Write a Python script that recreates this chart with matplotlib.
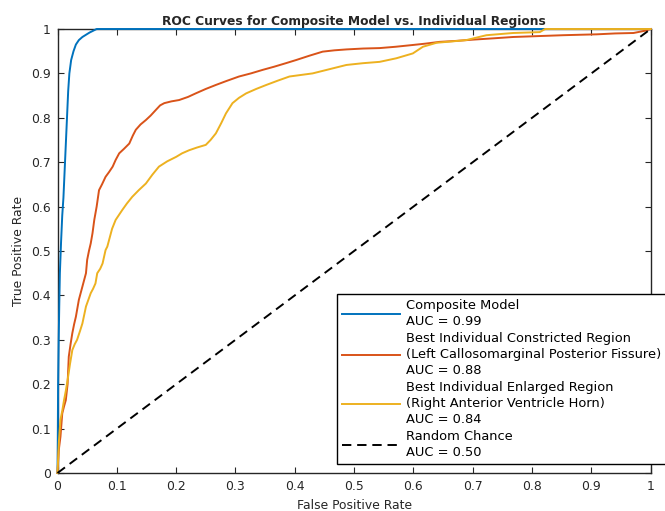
import numpy as np
import matplotlib.pyplot as plt

# ROC curve points
comp_fpr = [0, 0.0005, 0.001, 0.002, 0.003, 0.004, 0.006, 0.008, 0.010, 0.012, 0.014, 0.016,
            0.018, 0.020, 0.023, 0.027, 0.031, 0.036, 0.042, 0.048, 0.054, 0.060, 0.066, 1.0]
comp_tpr = [0, 0.08, 0.20, 0.30, 0.38, 0.45, 0.52, 0.58, 0.62, 0.68, 0.74, 0.80,
            0.86, 0.90, 0.93, 0.95, 0.965, 0.975, 0.982, 0.987, 0.992, 0.996, 1.0, 1.0]

con_fpr = [0, 0.002, 0.005, 0.008, 0.011, 0.014, 0.017, 0.019, 0.022, 0.025, 0.028, 0.031,
           0.036, 0.042, 0.048, 0.050, 0.053, 0.056, 0.059, 0.062, 0.066, 0.070, 0.075, 0.081,
           0.087, 0.093, 0.098, 0.104, 0.112, 0.121, 0.127, 0.132, 0.140, 0.149, 0.157, 0.166,
           0.173, 0.180, 0.192, 0.205, 0.22, 0.233, 0.25, 0.267, 0.285, 0.306, 0.326, 0.346,
           0.365, 0.385, 0.402, 0.425, 0.447, 0.467, 0.487, 0.515, 0.543, 0.57, 0.599, 0.62,
           0.644, 0.67, 0.70, 0.735, 0.768, 0.81, 0.852, 0.88, 0.909, 0.94, 0.971, 0.99, 1.0]
con_tpr = [0, 0.05, 0.082, 0.134, 0.15, 0.164, 0.20, 0.262, 0.29, 0.315, 0.335, 0.352,
           0.39, 0.42, 0.45, 0.48, 0.50, 0.517, 0.54, 0.57, 0.60, 0.637, 0.65, 0.667,
           0.678, 0.69, 0.705, 0.72, 0.73, 0.742, 0.76, 0.773, 0.785, 0.795, 0.805, 0.818,
           0.828, 0.833, 0.837, 0.84, 0.847, 0.855, 0.865, 0.874, 0.883, 0.893, 0.90, 0.908,
           0.915, 0.923, 0.930, 0.94, 0.949, 0.952, 0.954, 0.956, 0.957, 0.96, 0.964, 0.967,
           0.971, 0.973, 0.976, 0.979, 0.982, 0.984, 0.986, 0.987, 0.988, 0.99, 0.991, 0.996, 1.0]

enl_fpr = [0, 0.0025, 0.005, 0.008, 0.011, 0.014, 0.017, 0.021, 0.025, 0.029, 0.033, 0.038,
           0.042, 0.048, 0.052, 0.056, 0.060, 0.064, 0.067, 0.072, 0.076, 0.081, 0.084, 0.087,
           0.092, 0.098, 0.103, 0.109, 0.117, 0.126, 0.137, 0.149, 0.160, 0.171, 0.185, 0.20,
           0.21, 0.222, 0.235, 0.25, 0.258, 0.267, 0.276, 0.284, 0.295, 0.306, 0.318, 0.335,
           0.352, 0.372, 0.391, 0.43, 0.46, 0.487, 0.515, 0.543, 0.571, 0.599, 0.616, 0.639,
           0.665, 0.689, 0.723, 0.768, 0.813, 0.822, 1.0]
enl_tpr = [0, 0.074, 0.12, 0.14, 0.164, 0.185, 0.209, 0.245, 0.277, 0.29, 0.30, 0.32,
           0.337, 0.375, 0.39, 0.405, 0.415, 0.427, 0.45, 0.46, 0.472, 0.502, 0.51, 0.525,
           0.55, 0.57, 0.58, 0.592, 0.607, 0.622, 0.637, 0.652, 0.672, 0.69, 0.702, 0.712,
           0.72, 0.727, 0.733, 0.739, 0.75, 0.765, 0.788, 0.81, 0.833, 0.845, 0.855, 0.865,
           0.874, 0.884, 0.893, 0.90, 0.91, 0.919, 0.923, 0.926, 0.934, 0.945, 0.96, 0.969,
           0.972, 0.975, 0.986, 0.991, 0.993, 1.0, 1.0]

rand_fpr = [0, 1]
rand_tpr = [0, 1]

labels = ['Composite Model\nAUC = 0.99',
          'Best Individual Constricted Region\n(Left Callosomarginal Posterior Fissure)\nAUC = 0.88',
          'Best Individual Enlarged Region\n(Right Anterior Ventricle Horn)\nAUC = 0.84',
          'Random Chance\nAUC = 0.50']

fs = 8.9
txtc = (0.15, 0.15, 0.15)
plt.rcParams['font.family'] = 'DejaVu Sans'

fig = plt.figure(figsize=(6.65, 5.11), dpi=100)
ax = fig.add_axes([57.5/665, 38/511, 593.2/665, 444/511])

ax.plot(comp_fpr, comp_tpr, color=(0, 0.447, 0.741), lw=1.4, label=labels[0],
        clip_on=False, zorder=3)
ax.plot(con_fpr, con_tpr, color=(0.85, 0.325, 0.098), lw=1.4, label=labels[1],
        clip_on=False, zorder=3)
ax.plot(enl_fpr, enl_tpr, color=(0.929, 0.694, 0.125), lw=1.4, label=labels[2],
        clip_on=False, zorder=3)
ax.plot(rand_fpr, rand_tpr, 'k', lw=1.4, dashes=(4.8, 3.0), label=labels[3],
        clip_on=False, zorder=3)

ax.set_xlim(0, 1)
ax.set_ylim(0, 1)
ticks = np.linspace(0, 1, 11)
ticklab = ['0'] + ['%.1f' % t for t in ticks[1:-1]] + ['1']
ax.set_xticks(ticks)
ax.set_xticklabels(ticklab)
ax.set_yticks(ticks)
ax.set_yticklabels(ticklab)
ax.tick_params(direction='in', length=4, width=0.8, top=True, right=True,
               labelsize=fs, colors=txtc, pad=5)
for s in ax.spines.values():
    s.set_linewidth(1.0)
    s.set_color(txtc)

ax.set_xlabel('False Positive Rate', fontsize=fs, color=txtc)
ax.set_ylabel('True Positive Rate', fontsize=fs, color=txtc)
ax.xaxis.set_label_coords(0.5, -0.058)
ax.yaxis.set_label_coords(-0.055, 0.5)
ax.set_title('ROC Curves for Composite Model vs. Individual Regions',
             fontsize=8.8, fontweight='bold', color=txtc, pad=3)

leg = ax.legend(loc='upper left', bbox_to_anchor=(0.4707, 0.403), borderaxespad=0,
                fontsize=9.35, handlelength=4.45, handletextpad=0.45, labelspacing=0.27,
                borderpad=0.4, fancybox=False, framealpha=1)
for t in leg.get_texts():
    t.set_linespacing(1.32)
leg.get_frame().set_edgecolor('k')
leg.get_frame().set_linewidth(1.0)
leg.set_zorder(5)

plt.savefig('out.png', dpi=100)
